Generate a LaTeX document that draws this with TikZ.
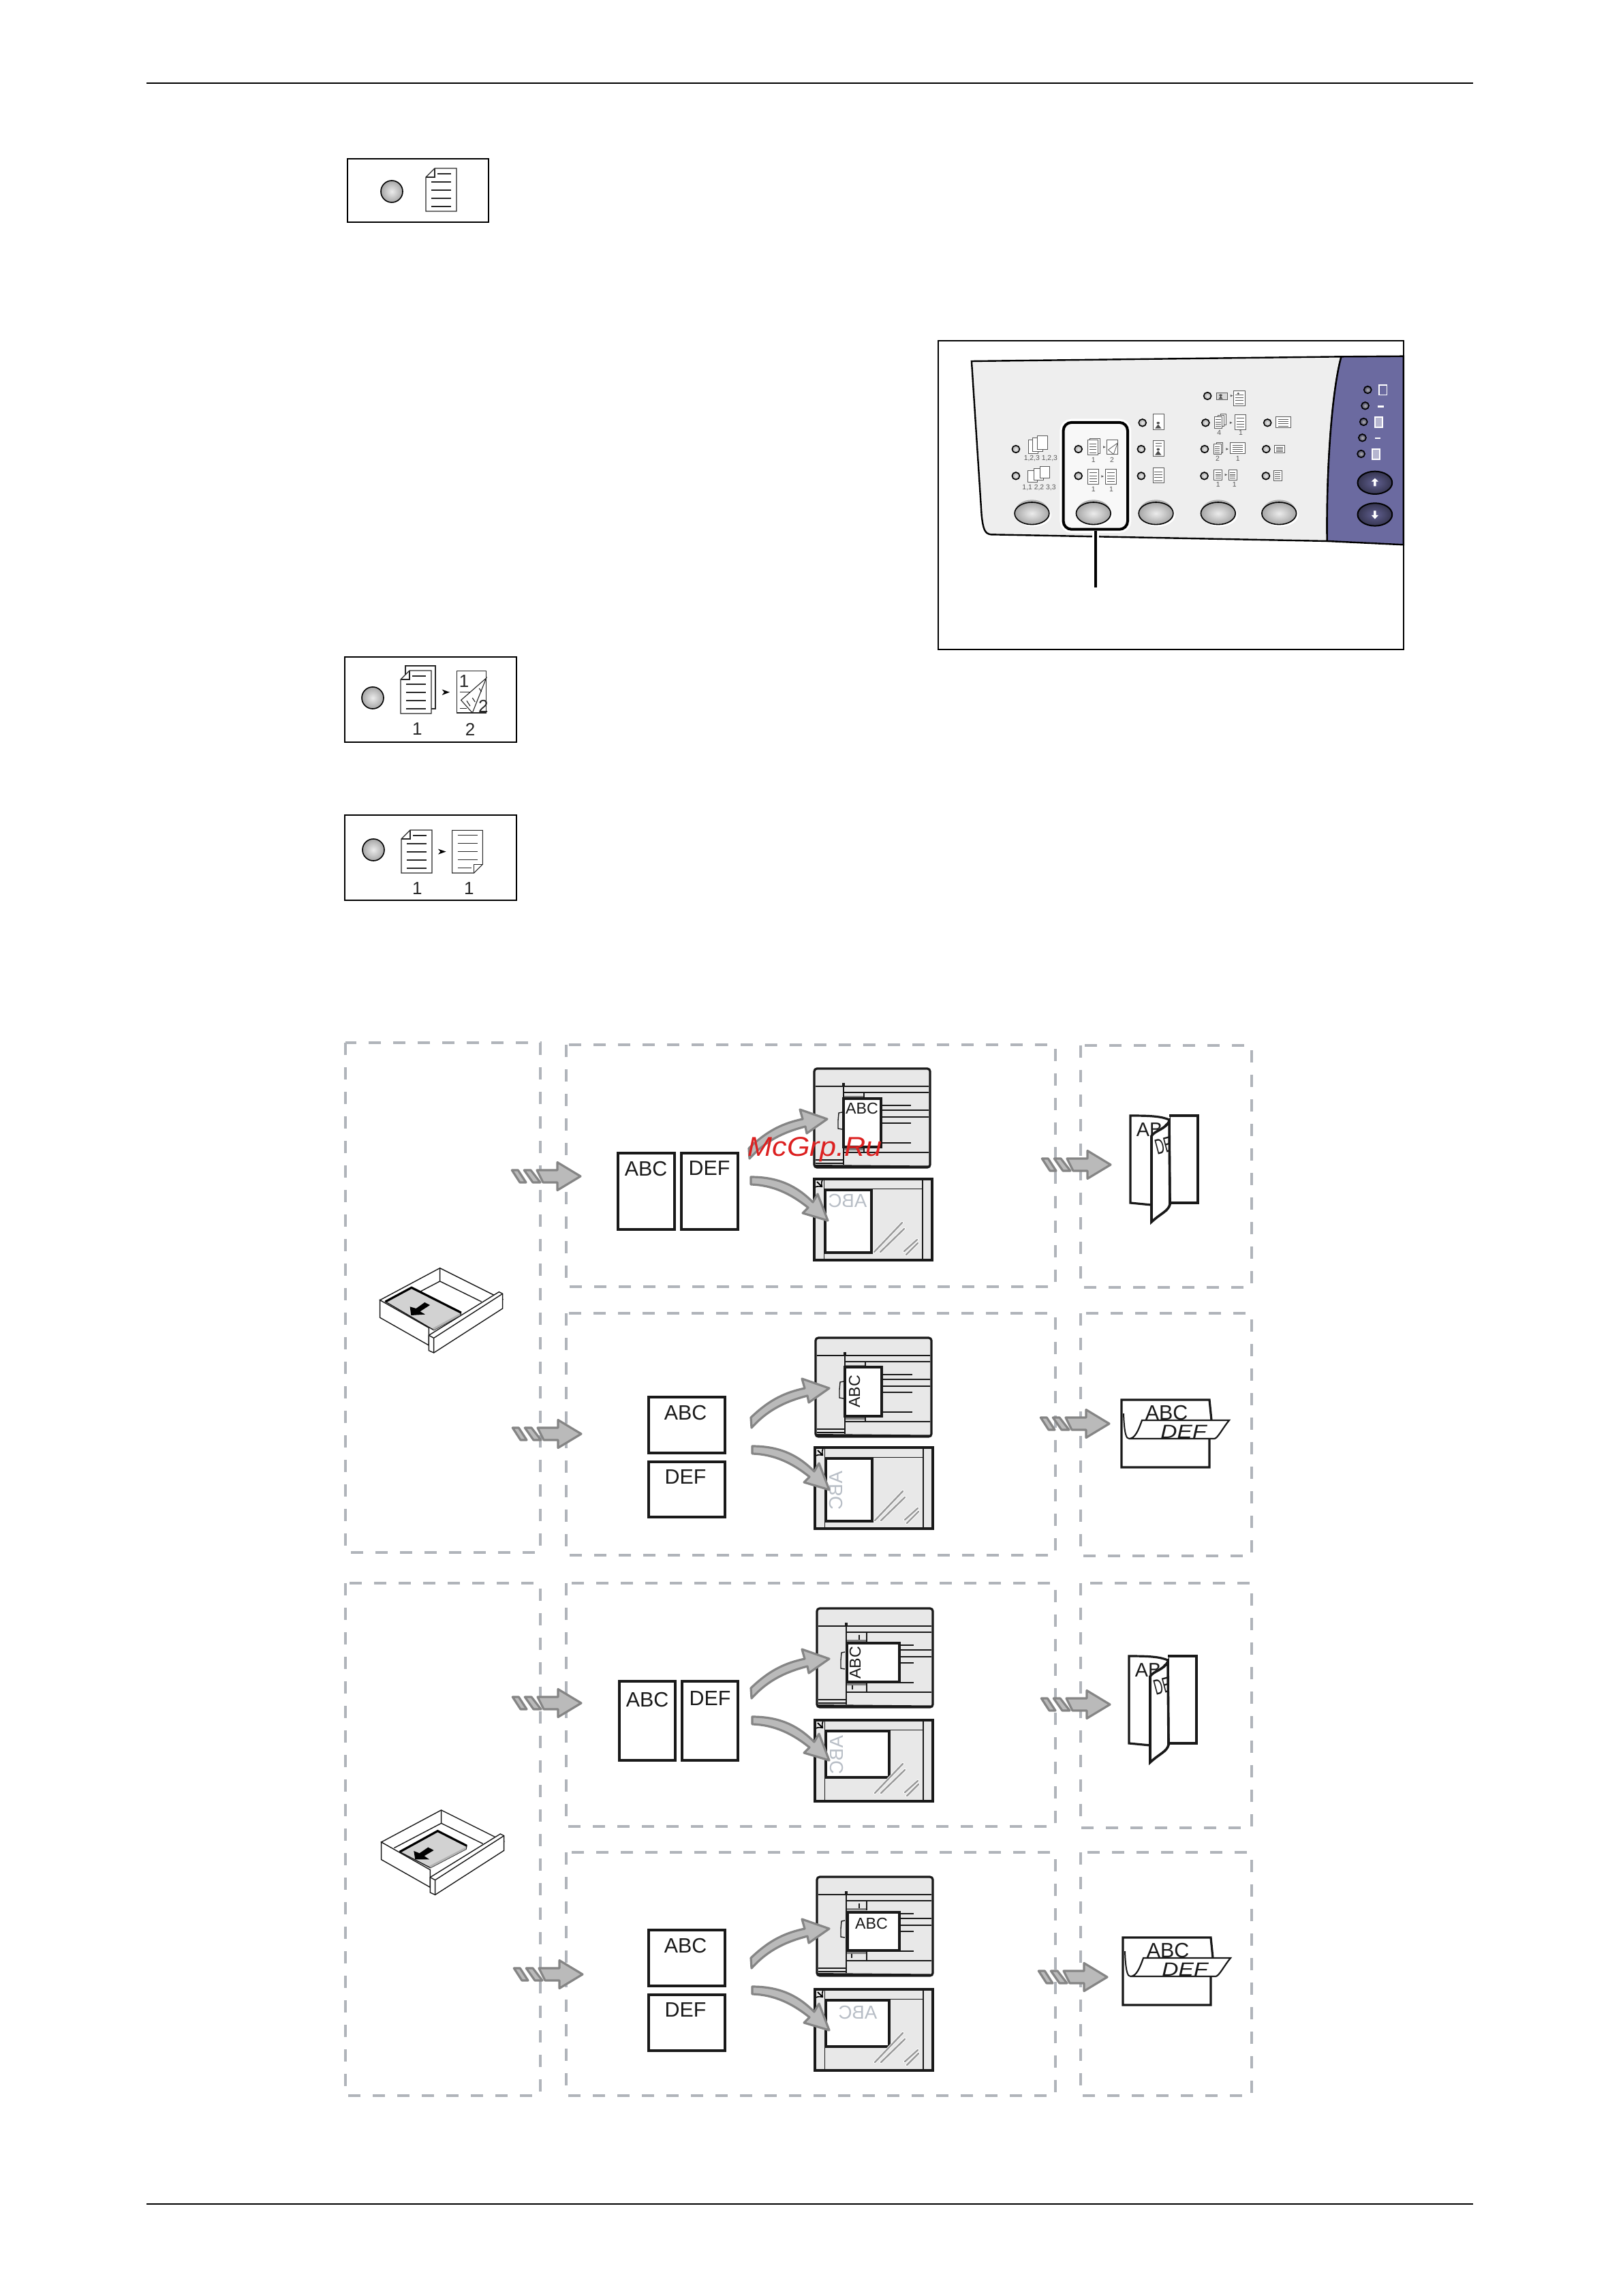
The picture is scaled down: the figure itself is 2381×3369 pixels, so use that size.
\documentclass[tikz,border=0pt]{standalone}
\usepackage{graphicx}
\usepackage{fontspec}
\setmainfont{Liberation Sans}
\usepackage{tikz}
\usetikzlibrary{positioning}
\definecolor{dashgray}{HTML}{B0B4BA}
\definecolor{unitgray}{HTML}{E8E8E8}
\definecolor{arrowfill}{HTML}{BABABA}
\definecolor{arrowedge}{HTML}{858585}
\definecolor{ghosttext}{HTML}{B8BEC6}
\definecolor{panelface}{HTML}{EEEEEE}
\definecolor{panelblue}{HTML}{6B6AA0}
\definecolor{stampred}{HTML}{DC2020}
\newcommand{\minisheet}[4]{
        \draw[miniline,fill=white] (#1,#2) rectangle (#3,#4);
        \foreach \lv in {.25,.45,.65,.85}
            \draw[miniline] ({#1+.15*(#3-#1)},{#2+\lv*(#4-#2)}) -- ({#3-.15*(#3-#1)},{#2+\lv*(#4-#2)});
}
\tikzset{
    rowbox/.style={draw=dashgray, line width=1.2pt, dash pattern=on 4.5pt off 4.5pt},
    keybox/.style={draw, line width=.5pt},
    ledball/.style={draw, line width=.4pt, inner color=gray!15, outer color=gray!70},
    blueled/.style={draw, line width=.4pt, inner color=gray!60, outer color=panelblue!60!black},
    miniline/.style={draw=black!65, line width=.2pt},
    iconline/.style={draw=black!85, line width=.28pt},
    unitedge/.style={draw=black!90, fill=unitgray, line width=.8pt},
    unitline/.style={draw=black!90, line width=.35pt},
    sheetedge/.style={draw=black!90, fill=white, line width=.8pt},
    trayline/.style={draw=black!90, line width=.35pt},
    bendarrow/.style={draw=arrowedge, fill=arrowfill, line width=.8pt, line join=round},
    sheettext/.style={inner sep=0pt, text=black!90, font=\fontsize{7.6}{9}\selectfont},
    unittext/.style={inner sep=0pt, text=black!90, font=\fontsize{5.8}{7}\selectfont},
    ghostlabel/.style={inner sep=0pt, text=ghosttext, font=\fontsize{6.9}{8}\selectfont},
    keylabel/.style={inner sep=0pt, text=black!85, font=\fontsize{6.5}{8}\selectfont},
    minilabel/.style={inner sep=0pt, text=black!65, font=\fontsize{2.6}{3}\selectfont},
    stamptext/.style={inner sep=0pt, text=stampred, font=\itshape\fontsize{10}{12}\selectfont},
    dupkey/.style={draw, line width=1pt, rounded corners=3pt, fill=white!60!panelface, minimum width=23.6pt, minimum height=39.2pt, inner sep=0pt},
    pics/dogsheet/.style={code={
        \draw[iconline,fill=white] (13,0) -- (45,0) -- (45,63) -- (0,63) -- (0,13) -- cycle;
        \draw[iconline] (13,0) -- (13,13) -- (0,13);
        \draw[iconline] (17,8) -- (37,8);
        \foreach \ly in {20,32,44,56}
            \draw[iconline] (8,\ly) -- (37,\ly);
    }},
    pics/feeder/.style 2 args={code={
        \draw[unitedge,rounded corners=1pt] (0,0) rectangle (170,145);
        \fill[black!90] (0,141) -- (170,142.5) -- (170,145) -- (0,145) -- cycle;
        \foreach \ly in {26,35,61,71,123}
            \draw[unitline] (43,\ly) -- (168,\ly);
        \draw[unitline] (2,26) -- (43,26) (2,134) -- (43,134) (2,139) -- (43,139);
        \draw[line width=.45pt,black!90] (43,26) -- (43,141);
        \draw[line width=.9pt,black!90] (43,21) -- (43,27);
        \foreach \ly in {54,80,109}
            \draw[line width=.45pt,black!90] (60,\ly) -- (142,\ly);
        \fill[gray] (44,#1) rectangle (73,#1+3) (44,#2) rectangle (73,#2+3);
        \draw[unitline] (73,35) -- (73,#1+3) (73,#2) -- (73,123);
        \draw[unitline,fill=unitgray] (41,64) -- (36,65) -- (35,76) -- (35,88) -- (41,89);
    }},
    pics/glass/.style 2 args={code={
        \draw[unitedge] (0,0) rectangle (173,119);
        \draw[unitline] (14.5,0) -- (14.5,119) (159,0) -- (159,119) (14.5,14.5) -- (159,14.5);
        \draw[sheetedge] (16,16) rectangle (#1,#2);
        \foreach \ax/\ay/\bx/\by in {129/64/88/107,132/73/97/107,151/89/132/106,152/94/135/111}{
            \draw[white,line width=1pt,line cap=round] (\ax,\ay) -- (\bx,\by);
            \draw[gray!80,line width=.6pt,line cap=round] (\ax,\ay) -- (\bx,\by);
        }
        \draw[->,line width=.5pt] (4,4) -- (12,12);
    }},
    pics/bendup/.style={code={
        \draw[bendarrow] (0,0) -- (-1,-15) .. controls (27,-42) and (50,-52) .. (78,-58) -- (74,-72) -- (114,-58) -- (84,-37) -- (82,-47) .. controls (43,-37) and (20,-22) .. (0,0) -- cycle;
    }},
    pics/benddown/.style={code={
        \draw[bendarrow] (0,0) .. controls (43,0) and (69,15) .. (91,37) -- (98,25) -- (113,64) -- (76,53) -- (84,45) .. controls (59,25) and (33,12) .. (0,11) -- cycle;
    }},
    pics/stripearrow/.style={code={
        \draw[bendarrow] (-100.7,-9) -- (-91.7,-9) -- (-80,9) -- (-89,9) -- cycle;
        \draw[bendarrow] (-82.7,-9) -- (-73,-9) -- (-59,9) -- (-70,9) -- cycle;
        \draw[bendarrow] (-64,-9) -- (-34,-9) -- (-34,-20.5) -- (0,0) -- (-34,20.5) -- (-34,9) -- (-55,9) -- cycle;
    }},
    pics/foldleaf/.style={code={
        \draw[sheetedge] (57,0) -- (99,0) -- (99,128) -- (57,128);
        \draw[sheetedge] (0,0) .. controls (30,0) and (45,1) .. (57,6) -- (58,130) -- (31,131) -- (0,128) -- cycle;
        \begin{scope}
            \clip (0,0) rectangle (56,128);
            \node[sheettext,anchor=west,font=\fontsize{7.2}{9}\selectfont] (-abc) at (8,21) {ABC};
        \end{scope}
        \draw[sheetedge,line width=.9pt] (31,30) .. controls (35,22) and (52,20) .. (57,8) -- (58,130) .. controls (56,140) and (45,143) .. (31,156) -- cycle;
        \begin{scope}
            \clip (31,30) .. controls (35,22) and (52,20) .. (57,8) -- (58,130) .. controls (56,140) and (45,143) .. (31,156) -- cycle;
            \node[sheettext,anchor=west,rotate=15,font=\fontsize{7.2}{9}\selectfont] (-def) at (36,47) {\scalebox{.62}[1.1]{DEF}};
        \end{scope}
    }},
    pics/foldtop/.style={code={
        \draw[sheetedge] (129,57) -- (129,99) -- (0,99) -- (0,0) -- (129,0) -- (132,30);
        \node[sheettext] (-abc) at (66,19) {ABC};
        \draw[unitline,line width=.5pt] (3,20) .. controls (4,50) and (7,57) .. (11,57);
        \draw[sheetedge,line width=.55pt] (11,57) .. controls (20,57) and (25,44) .. (30,30) -- (158,30) .. controls (148,42) and (141,57) .. (136,57) -- cycle;
        \begin{scope}
            \clip (11,57) .. controls (20,57) and (25,44) .. (30,30) -- (158,30) .. controls (148,42) and (141,57) .. (136,57) -- cycle;
            \node[sheettext,font=\itshape\fontsize{7}{8}\selectfont] (-def) at (91,47) {\scalebox{1.2}[1]{DEF}};
        \end{scope}
    }},
    pics/trayframe/.style={code={
        \draw[trayline,fill=white] (173,263) -- (437,122) -- (713,260) -- (410,430) -- cycle;
        \draw[trayline] (437,122) -- (437,180) (437,180) -- (229,289) (437,180) -- (620,270);
        \draw[trayline,fill=white] (173,263) -- (173,340) -- (388,462) -- (388,385) -- cycle;
        \draw[trayline,fill=white] (388,418) -- (697,227) -- (713,235) -- (713,300) -- (410,495) -- (388,485) -- cycle;
        \draw[trayline] (388,418) -- (410,430) -- (713,235) (410,430) -- (410,495);
    }}
}
\begin{document}
\begin{tikzpicture}[x=.25pt,y=-.25pt]
        \useasboundingbox (0,0) rectangle (2381,3369);
        \draw[line width=.5pt] (215,122) -- (2162,122);
        \draw[line width=.5pt] (215,3234) -- (2162,3234);

        \draw[keybox] (510,233) rectangle (717,326);
        \draw[ledball] (575,281) circle (16);
        \pic (sheetone) at (625,247) {dogsheet};

        \draw[keybox] (506,964) rectangle (758,1089);
        \draw[ledball] (547,1024) circle (16);
        \draw[iconline,fill=white] (595,977) rectangle (639,1040);
        \pic (sheettwo) at (588,984) {dogsheet};
        \draw[keybox] (506,1196) rectangle (758,1321);
        \draw[ledball] (548,1247) circle (16);
        \pic (sheetthree) at (589,1218) {dogsheet};
        \begin{scope}[shift={(490,950)},scale=.3333]
            \fill (476,185) -- (510,197) -- (476,210) -- (486,197) -- cycle;
            \draw[iconline,fill=white] (541,104) rectangle (671,288);
            \draw[iconline] (555,197) -- (600,197) (555,268) -- (585,268);
            \draw[iconline,fill=white] (671,135) -- (610,288) -- (560,232) -- cycle;
            \draw[iconline] (585,235) -- (600,258) (610,222) -- (622,240) (640,180) -- (650,195);
            \fill (459,887) -- (494,899) -- (459,911) -- (469,899) -- cycle;
            \draw[iconline,fill=white] (521,805) -- (655,805) -- (655,955) -- (617,993) -- (521,993) -- cycle;
            \draw[iconline] (655,955) -- (617,955) -- (617,993);
            \foreach \ly in {826,862,898,934}
                \draw[iconline] (545,\ly) -- (632,\ly);
            \draw[iconline] (545,970) -- (605,970);
            \node[keylabel] (flipone) at (573,150) {1};
            \node[keylabel] (fliptwo) at (658,258) {2};
            \node[keylabel] (countone) at (367,360) {1};
            \node[keylabel] (counttwo) at (600,360) {2};
            \node[keylabel] (countthree) at (367,1060) {1};
            \node[keylabel] (countfour) at (595,1060) {1};
        \end{scope}

        \begin{scope}[shift={(1360,490)},xscale=.461,yscale=.3333]
            \draw[fill=panelface,line width=.6pt] (143,120) -- (1320,100) .. controls (1290,250) and (1272,600) .. (1275,912) -- (205,883) .. controls (185,880) and (180,860) .. (175,800) -- cycle;
            \draw[fill=panelblue,line width=.6pt] (1320,100) -- (1518,98) -- (1518,928) -- (1275,912) .. controls (1272,600) and (1290,250) .. (1320,100) -- cycle;
            \node[dupkey,draw=white,line width=2.6pt] (dupkeyhalo) at (537.5,625) {};
            \node[dupkey] (dupkeybox) at (537.5,625) {};
            \coordinate (dupkeyend) at (537.5,1115);
            \draw[white,line width=2.4pt] (dupkeybox.south) -- +(0,50);
            \draw[line width=.9pt] (dupkeybox.south) -- (dupkeyend);
            \foreach \bx in {335,531,730,928,1122}{
                \fill[white] (\bx+5,796) ellipse (57 and 52);
                \fill[gray!60] (\bx,782) ellipse (53 and 52);
                \draw[ledball] (\bx,790) ellipse (55 and 49);
            }
            \foreach \lx/\ly in {284/507,284/625,483/507,483/625,687/391,683/507,683/625,894/273,888/391,885/507,884/625,1085/391,1081/507,1080/625}
                \draw[ledball] (\lx,\ly) ellipse (12 and 16);
            \foreach \lx/\ly in {1404/246,1396/316,1391/387,1387/457,1383/528}
                \draw[blueled] (\lx,\ly) ellipse (12 and 16);
            \foreach \by in {655,795}
                \draw[line width=.5pt,inner color=panelblue!90!black,outer color=panelblue!50!black] (1427,\by) ellipse (55 and 50);
            \fill[white] (1427,635) -- (1438,650) -- (1431,650) -- (1431,670) -- (1423,670) -- (1423,650) -- (1416,650) -- cycle;
            \fill[white] (1427,815) -- (1438,798) -- (1431,798) -- (1431,778) -- (1423,778) -- (1423,798) -- (1416,798) -- cycle;
            \foreach \sx in {0,15,30}{
                \draw[miniline,fill=white] (323+\sx,467-\sx*.6) rectangle (355+\sx,525-\sx*.6);
                \draw[miniline,fill=white] (322+\sx*1.3,600-\sx*.6) rectangle (352+\sx*1.3,652-\sx*.6);
            }
            \draw[miniline,fill=white] (520,460) rectangle (552,525);
            \minisheet{513}{467}{545}{532}
            \draw[miniline,fill=white] (574,467) rectangle (608,530);
            \draw[miniline,fill=white] (608,480) -- (595,530) -- (578,510) -- cycle;
            \minisheet{513}{595}{548}{660}
            \minisheet{569}{595}{603}{660}
            \draw[miniline,fill=white] (720,353) rectangle (755,420);
            \fill[black!70] (737,392) circle (5) (727,416) -- (737,398) -- (747,416) -- cycle;
            \draw[miniline,fill=white] (720,470) rectangle (755,537);
            \draw[miniline] (728,482) -- (748,482) (728,492) -- (748,492);
            \fill[black!70] (737,508) circle (5) (727,533) -- (737,514) -- (747,533) -- cycle;
            \minisheet{720}{590}{755}{655}
            \draw[miniline,fill=gray!30] (923,258) rectangle (958,288);
            \fill[black!70] (936,270) circle (5) (929,286) -- (936,274) -- (943,286) -- cycle;
            \minisheet{978}{250}{1013}{317}
            \fill[black!70] (992,262) circle (4);
            \draw[miniline,fill=white] (935,352) rectangle (952,400);
            \draw[miniline,fill=white] (928,358) rectangle (946,407);
            \minisheet{917}{365}{941}{415}
            \minisheet{981}{355}{1016}{420}
            \draw[miniline,fill=white] (922,478) rectangle (942,524);
            \minisheet{914}{484}{937}{530}
            \minisheet{966}{478}{1014}{525}
            \minisheet{915}{598}{940}{642}
            \minisheet{962}{598}{987}{642}
            \minisheet{1112}{365}{1160}{412}
            \minisheet{1107}{490}{1140}{522}
            \minisheet{1105}{600}{1130}{645}
            \foreach \ax/\ay in {562/498,556/627,967/272,965/391,953/507,949/620}
                \fill[black!65] (\ax,\ay-5) -- (\ax+8,\ay) -- (\ax,\ay+5) -- cycle;
            \draw[white,line width=.4pt] (1440,225) rectangle (1465,268);
            \draw[white,line width=.5pt,fill=panelblue!50] (1428,365) rectangle (1452,410);
            \draw[white,line width=.5pt,fill=panelblue!50] (1418,507) rectangle (1442,552);
            \draw[white,line width=.7pt] (1437,320) -- (1455,320) (1427,459) -- (1445,459);
            \node[minilabel] (collateup) at (363,548) {1,2,3 1,2,3};
            \node[minilabel] (collatedown) at (358,677) {1,1 2,2 3,3};
            \foreach \tx/\ty/\tv [count=\ti] in {531/555/1,590/555/2,531/684/1,588/684/1,931/436/4,1000/436/1,926/550/2,991/550/1,928/664/1,980/664/1}
                \node[minilabel] (minicount\ti) at (\tx,\ty) {\tv};
            \draw[keybox,line width=.55pt] (37,30) rectangle (1518,1388);
        \end{scope}

        \draw[rowbox] (507,1530) rectangle (793,2278);
        \draw[rowbox] (507,2323) rectangle (793,3075);
        \draw[rowbox] (831,1533) rectangle (1549,1888);
        \draw[rowbox] (831,1927) rectangle (1549,2282);
        \draw[rowbox] (831,2323) rectangle (1549,2680);
        \draw[rowbox] (831,2718) rectangle (1549,3075);
        \draw[rowbox] (1586,1534) rectangle (1837,1889);
        \draw[rowbox] (1586,1927) rectangle (1837,2283);
        \draw[rowbox] (1586,2323) rectangle (1837,2682);
        \draw[rowbox] (1586,2718) rectangle (1837,3075);

        \begin{scope}[shift={(500,1820)},scale=.3333]
            \pic[transform shape] (trayone) at (0,0) {trayframe};
            \draw[trayline,fill=gray!35] (197,270) -- (312,208) -- (530,318) -- (527,330) -- (410,395) -- cycle;
            \fill[gray!60] (405,387) -- (525,322) -- (527,330) -- (410,395) -- cycle;
            \draw[line width=.8pt] (197,270) -- (312,208) -- (530,318);
            \fill (393,285) -- (370,273) -- (332,300) -- (305,292) -- (310,330) -- (372,326) -- (350,313) -- cycle;
        \end{scope}
        \begin{scope}[shift={(502,2615.3)},scale=.3333]
            \pic[transform shape] (traytwo) at (0,0) {trayframe};
            \draw[trayline,fill=gray!35] (254,306) -- (421,214) -- (549,279) -- (546,294) -- (389,376) -- cycle;
            \fill[gray!60] (384,368) -- (545,285) -- (546,294) -- (389,376) -- cycle;
            \draw[line width=.8pt] (254,306) -- (421,214) -- (549,279);
            \fill (404,299) -- (379,286) -- (341,312) -- (316,302) -- (322,339) -- (384,339) -- (362,324) -- cycle;
        \end{scope}

        \draw[sheetedge] (907,1692) rectangle (990,1804);
        \draw[sheetedge] (1000,1692) rectangle (1083,1804);
        \node[sheettext] (abcone) at (948,1715) {ABC};
        \node[sheettext] (defone) at (1041,1714) {DEF};
        \draw[sheetedge] (952,2050) rectangle (1064,2132);
        \draw[sheetedge] (952,2145) rectangle (1064,2226);
        \node[sheettext] (abctwo) at (1006,2073) {ABC};
        \node[sheettext] (deftwo) at (1006,2167) {DEF};
        \draw[sheetedge] (909,2467) rectangle (991,2583);
        \draw[sheetedge] (1001,2467) rectangle (1083,2583);
        \node[sheettext] (abcthree) at (950,2494) {ABC};
        \node[sheettext] (defthree) at (1042,2492) {DEF};
        \draw[sheetedge] (952,2832) rectangle (1064,2914);
        \draw[sheetedge] (952,2927) rectangle (1064,3009);
        \node[sheettext] (abcfour) at (1006,2855) {ABC};
        \node[sheettext] (deffour) at (1006,2949) {DEF};

        \pic (feedone) at (1195,1568) {feeder={40}{117}};
        \draw[sheetedge] (1238,1612) rectangle (1293,1683);
        \node[unittext] (feedtextone) at (1265,1626) {ABC};
        \pic (glassone) at (1195,1730) {glass={84}{108}};
        \node[ghostlabel] (glasstextone) at (1244,1762) {\reflectbox{ABC}};

        \pic (feedtwo) at (1197,1963) {feeder={40}{117}};
        \draw[sheetedge] (1240,2006) rectangle (1294,2078);
        \node[unittext,rotate=90] (feedtexttwo) at (1254,2042) {ABC};
        \pic (glasstwo) at (1196,2124) {glass={84}{108}};
        \node[ghostlabel,rotate=90] (glasstexttwo) at (1227,2187) {\reflectbox{ABC}};

        \pic (feedthree) at (1199,2360) {feeder={46}{110}};
        \draw[unitline] (1261,2399) -- (1261,2406) (1251,2473) -- (1251,2479);
        \draw[sheetedge] (1243,2411) rectangle (1320,2468);
        \node[unittext,rotate=90] (feedtextthree) at (1255,2440) {ABC};
        \pic (glassthree) at (1196,2524) {glass={109}{84}};
        \node[ghostlabel,rotate=90] (glasstextthree) at (1228,2575) {\reflectbox{ABC}};

        \pic (feedfour) at (1199,2754) {feeder={46}{110}};
        \draw[unitline] (1261,2793) -- (1261,2800) (1250,2867) -- (1250,2873);
        \draw[sheetedge] (1244,2806) rectangle (1320,2862);
        \node[unittext] (feedtextfour) at (1279,2822) {ABC};
        \pic (glassfour) at (1196,2919) {glass={109}{84}};
        \node[ghostlabel] (glasstextfour) at (1259,2953) {\reflectbox{ABC}};

        \pic (bendupone) at (1100,1700) {bendup};
        \pic (benddownone) at (1102,1727) {benddown};
        \pic (benduptwo) at (1103,2095) {bendup};
        \pic (benddowntwo) at (1104,2122) {benddown};
        \pic (bendupthree) at (1103,2492) {bendup};
        \pic (benddownthree) at (1104,2519) {benddown};
        \pic (bendupfour) at (1103,2888) {bendup};
        \pic (benddownfour) at (1104,2915) {benddown};

        \pic (feedarrowone) at (852,1726) {stripearrow};
        \pic (feedarrowtwo) at (853,2104) {stripearrow};
        \pic (feedarrowthree) at (853,2499) {stripearrow};
        \pic (feedarrowfour) at (855,2897) {stripearrow};
        \pic (outarrowone) at (1630,1709) {stripearrow};
        \pic (outarrowtwo) at (1628,2089) {stripearrow};
        \pic (outarrowthree) at (1629,2501) {stripearrow};
        \pic (outarrowfour) at (1625,2901) {stripearrow};

        \pic (leafone) at (1659,1637) {foldleaf};
        \pic (leaftwo) at (1657,2430) {foldleaf};
        \pic (topone) at (1646,2054) {foldtop};
        \pic (toptwo) at (1648,2843) {foldtop};

        \node[stamptext] (stampmark) at (1196,1687) {\scalebox{1.08}[1]{McGrp.Ru}};
\end{tikzpicture}
\end{document}
